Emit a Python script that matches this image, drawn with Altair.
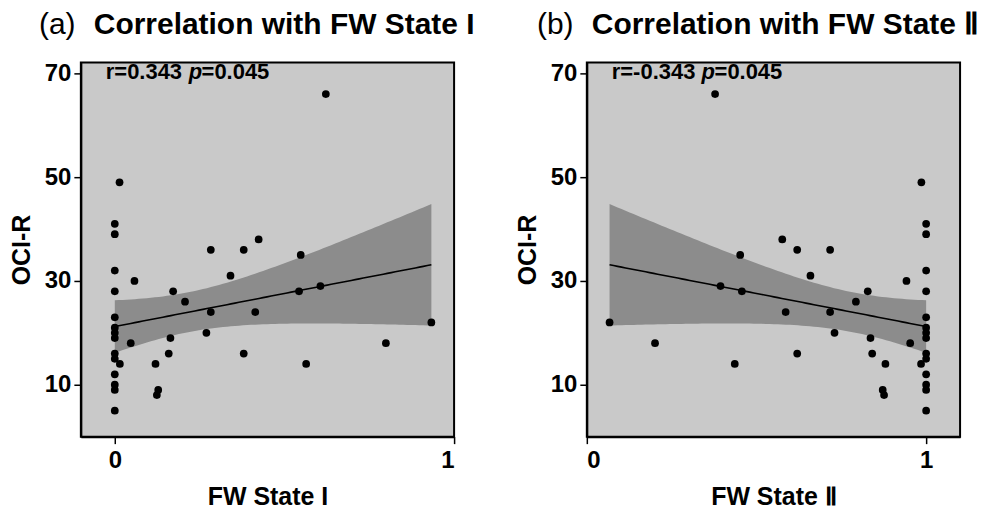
import altair as alt
import pandas as pd
import numpy as np

FONT = "Liberation Sans"

# OCI-R scores (shared by both panels)
ocir = [41, 39, 32, 28, 23, 21, 20, 19, 16, 15, 12, 10, 9, 5,
        49, 14, 18, 30, 14, 9, 8, 16, 19, 28, 26, 20, 24, 36, 31, 36, 16,
        38, 24, 35, 28, 14, 29, 66, 18, 22]

# FW State I (panel a)
fw_state1 = [0, 0, 0, 0, 0, 0, 0, 0, 0, 0, 0, 0, 0, 0,
             0.014, 0.015, 0.047, 0.058, 0.12, 0.128, 0.124, 0.159, 0.164, 0.172,
             0.207, 0.27, 0.283, 0.283, 0.341, 0.38, 0.38,
             0.424, 0.414, 0.548, 0.543, 0.564, 0.606, 0.622, 0.799, 0.933]

# FW State II (panel b)
fw_state2 = [1, 1, 1, 1, 1, 1, 1, 1, 1, 1, 1, 1, 1, 1,
             0.986, 0.985, 0.953, 0.942, 0.88, 0.872, 0.876, 0.841, 0.836, 0.828,
             0.793, 0.73, 0.717, 0.717, 0.659, 0.62, 0.62,
             0.576, 0.586, 0.452, 0.457, 0.436, 0.394, 0.378, 0.201, 0.067]

y_ticks = [10, 30, 50, 70]
x_ticks = [0, 1]

W, H = 374, 375


def fit_band(xs, ys, n_grid=80):
    x = np.array(xs, dtype=float)
    y = np.array(ys, dtype=float)
    n = len(x)
    b1, b0 = np.polyfit(x, y, 1)
    resid = y - (b0 + b1 * x)
    s = np.sqrt((resid ** 2).sum() / (n - 2))
    sxx = ((x - x.mean()) ** 2).sum()
    t = 2.024  # 95% t quantile, df = 38
    grid = np.linspace(x.min(), x.max(), n_grid)
    fit = b0 + b1 * grid
    h = t * s * np.sqrt(1.0 / n + (grid - x.mean()) ** 2 / sxx)
    return pd.DataFrame({"x": grid, "fit": fit, "lo": fit - h, "hi": fit + h})


def txt(s, x, y, size, weight="bold", style="normal"):
    return alt.Chart(pd.DataFrame({"t": [s]})).mark_text(
        align="left", baseline="alphabetic", fontSize=size, fontWeight=weight,
        fontStyle=style, font=FONT, color="black"
    ).encode(text="t:N", x=alt.value(x), y=alt.value(y))


def panel(xs, xdomain, xtitle, tag, tag_x, title, title_x, r_str, p_x, eq_x):
    pts = pd.DataFrame({"x": xs, "y": ocir})
    band = fit_band(xs, ocir)
    xscale = alt.Scale(domain=xdomain, nice=False, zero=False)
    yscale = alt.Scale(domain=[0, 72.1], nice=False, zero=False)
    xaxis = alt.Axis(values=x_ticks, format="d", title=xtitle, labelPadding=5,
                     titlePadding=12)
    yaxis = alt.Axis(values=y_ticks, format="d", title="OCI-R", labelPadding=3,
                     titlePadding=10)
    X = lambda f: alt.X(f, type="quantitative", scale=xscale, axis=xaxis)
    Y = lambda f: alt.Y(f, type="quantitative", scale=yscale, axis=yaxis)

    area = alt.Chart(band).mark_area(color="#8c8c8c", opacity=1).encode(
        x=X("x"), y=Y("lo"), y2="hi")
    line = alt.Chart(band).mark_line(color="black", strokeWidth=1.6).encode(
        x=X("x"), y=Y("fit"))
    points = alt.Chart(pts).mark_circle(color="black", size=60, opacity=1).encode(
        x=X("x"), y=Y("y"))

    layers = [
        area, line, points,
        txt(r_str, 25, 17, 22),
        txt("p", p_x, 17, 22, style="italic"),
        txt("=0.045", eq_x, 17, 22),
        txt(tag, tag_x, -28, 30, weight="normal"),
        txt(title, title_x, -28, 30),
    ]
    return alt.layer(*layers).properties(width=W, height=H)


pa = panel(fw_state1, [-0.1, 1.0], "FW State I", "(a)", -42,
           "Correlation with FW State I", 13, "r=0.343", 108, 121)
pb = panel(fw_state2, [0.0, 1.1], "FW State  Ⅱ", "(b)", -50,
           "Correlation with FW State  Ⅱ", 5, "r=-0.343", 115, 128)

chart = alt.hconcat(pa, pb, spacing=133, bounds="flush").configure_view(
    stroke="black", strokeWidth=2, fill="#c9c9c9"
).configure_axis(
    grid=False, domainColor="black", domainWidth=2, tickColor="black",
    tickWidth=1.5, tickSize=7, labelFontSize=24, labelFontWeight="bold",
    labelFont=FONT, labelColor="black", titleFontSize=25, titleFontWeight="bold",
    titleFont=FONT, titleColor="black"
).properties(background="white",
             padding={"left": 0, "top": 1, "right": 5, "bottom": 5})

chart.save("out.html", embed_options={"renderer": "svg", "actions": False})
